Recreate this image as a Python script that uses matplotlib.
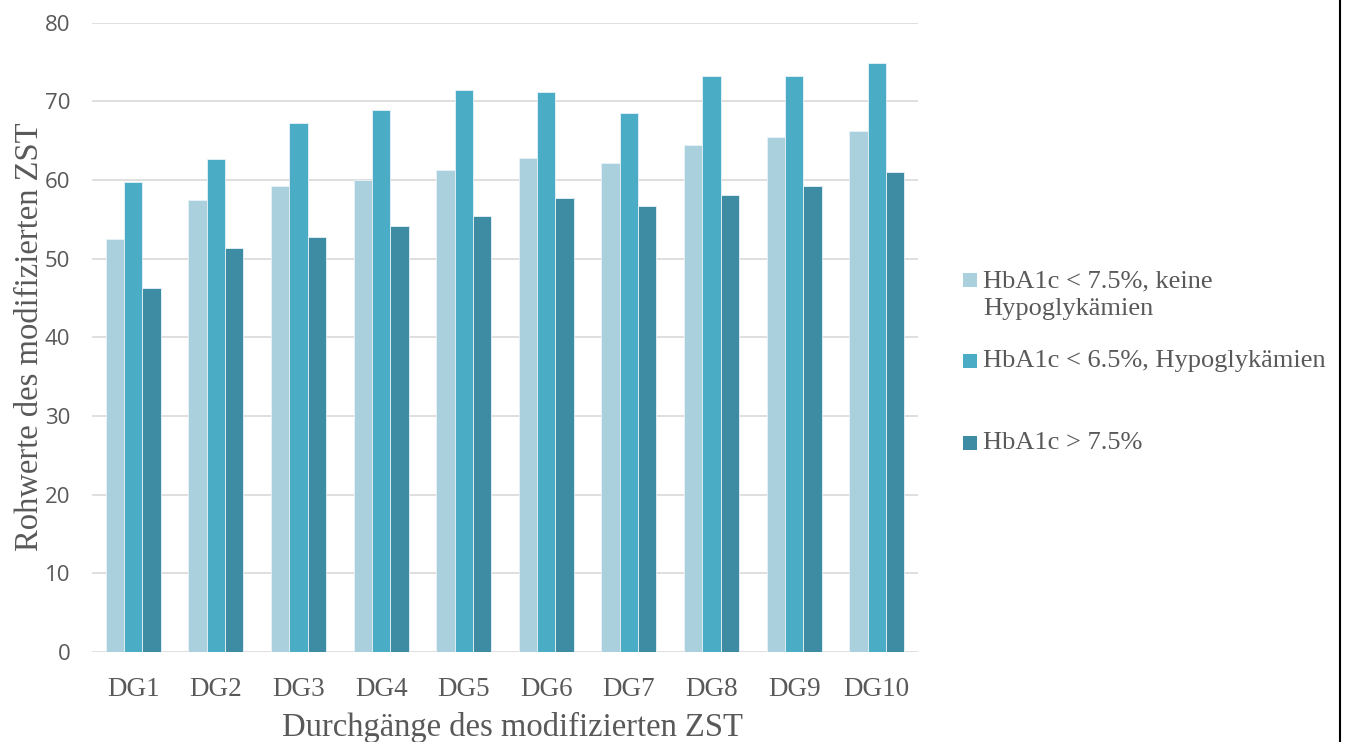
import matplotlib
matplotlib.use("Agg")
import matplotlib.pyplot as plt
from matplotlib.patches import Rectangle
import numpy as np

# Data
categories = ["DG1", "DG2", "DG3", "DG4", "DG5", "DG6", "DG7", "DG8", "DG9", "DG10"]
series_labels = [
    "HbA1c < 7.5%, keine\nHypoglykämien",
    "HbA1c < 6.5%, Hypoglykämien",
    "HbA1c > 7.5%",
]
good_control = [52.5, 57.4, 59.2, 60.0, 61.3, 62.8, 62.2, 64.5, 65.5, 66.2]
tight_hypo = [59.7, 62.7, 67.2, 68.9, 71.4, 71.2, 68.5, 73.2, 73.2, 74.9]
poor_control = [46.3, 51.4, 52.8, 54.2, 55.4, 57.7, 56.7, 58.1, 59.2, 61.0]
series_values = [good_control, tight_hypo, poor_control]
colors = ["#aacfdd", "#4bacc6", "#3d8ca4"]
y_ticks = [0, 10, 20, 30, 40, 50, 60, 70, 80]

text_gray = "#595959"
serif = ["Liberation Serif", "DejaVu Serif"]
W, H = 1347, 742

fig = plt.figure(figsize=(W / 100, H / 100), dpi=100)
ax = fig.add_axes([92 / W, 1 - 652 / H, (918 - 92) / W, (652 - 22.6) / H])

x = np.arange(len(categories))
bar_w = 0.667 / 3
for i, (vals, col) in enumerate(zip(series_values, colors)):
    ax.bar(x + (i - 1) * bar_w, vals, width=bar_w, color=col,
           edgecolor="#e8f3f7", linewidth=0.6, zorder=3)

ax.set_xlim(-0.5, len(categories) - 0.5)
ax.set_ylim(0, 80)
ax.set_yticks(y_ticks)
ax.set_yticklabels([str(t) for t in y_ticks], fontsize=16,
                   family=["Open Sans", "DejaVu Sans"], color=text_gray)
ax.set_xticks(x)
ax.set_xticklabels(categories, fontsize=19.5, family=serif, color=text_gray)
ax.tick_params(axis="y", length=0, pad=15.5)
ax.tick_params(axis="x", length=0, pad=18)

ax.grid(axis="y", color="#d9d9d9", linewidth=1.2, zorder=0)
for s in ["top", "right", "left", "bottom"]:
    ax.spines[s].set_visible(False)

# Axis titles
fig.text(512 / W, 1 - 727 / H, "Durchgänge des modifizierten ZST", fontsize=23.5,
         family=serif, color=text_gray, ha="center", va="center")
fig.text(30 / W, 1 - 337 / H, "Rohwerte des modifizierten ZST", fontsize=23.5,
         family=serif, color=text_gray, ha="center", va="center", rotation=90)

# Legend, placed entry by entry to the right of the plot
legend_y = [295, 361, 443]
for lab, col, yc in zip(series_labels, colors, legend_y):
    lines = lab.split("\n")
    first_y = yc - (len(lines) - 1) * 15
    fig.patches.append(Rectangle((963 / W, 1 - (first_y + 7) / H), 14 / W, 14 / H,
                                 transform=fig.transFigure, facecolor=col,
                                 edgecolor="none"))
    fig.text(983 / W, 1 - yc / H, lab, fontsize=19, family=serif,
             color=text_gray, va="center", ha="left", linespacing=1.35)

# Right frame line
fig.add_artist(plt.Line2D([1339.5 / W, 1339.5 / W], [0, 1],
                          transform=fig.transFigure, color="black", linewidth=1.5))

fig.savefig("out.png", dpi=100)
